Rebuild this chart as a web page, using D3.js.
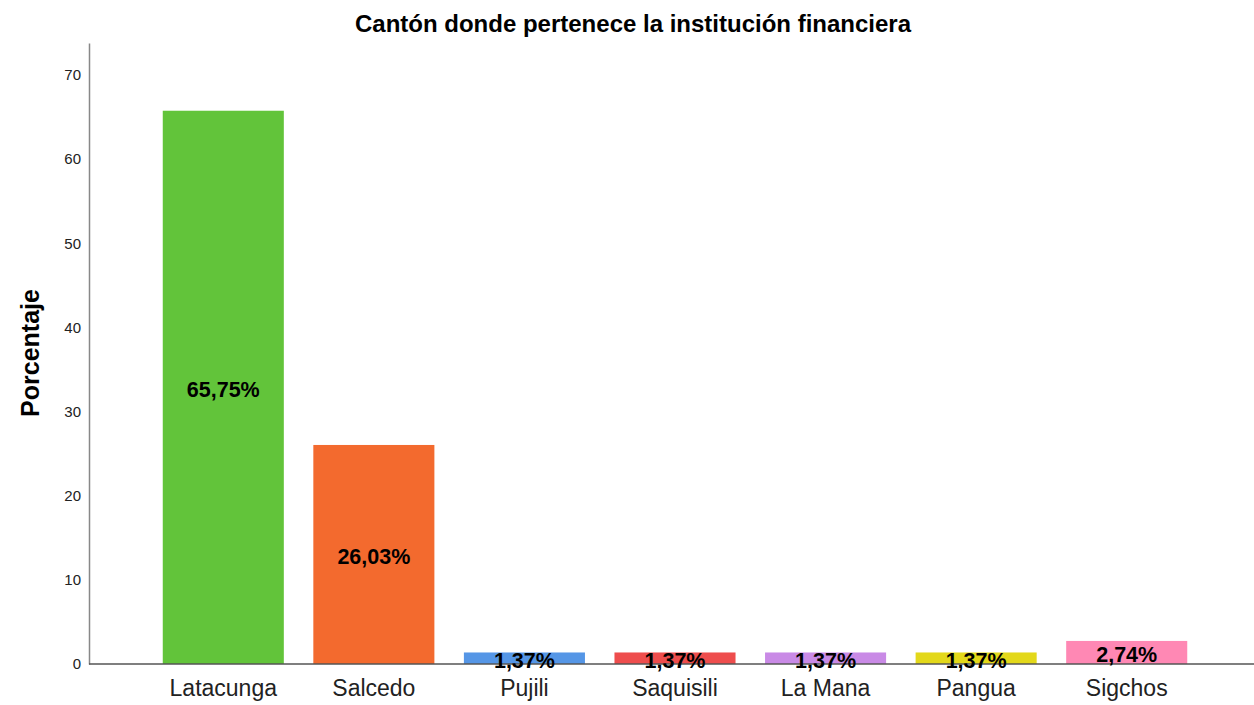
<!DOCTYPE html>
<html>
<head>
<meta charset="utf-8">
<script src="https://cdn.jsdelivr.net/npm/d3@7"></script>
<style>
    body { margin: 0; background: #fff; }
    text { font-family: "Liberation Sans", Arial, sans-serif; }
</style>
</head>
<body>
<script>
// datos del grafico
var cantones = ["Latacunga", "Salcedo", "Pujili", "Saquisili", "La Mana", "Pangua", "Sigchos"];
var porcentajes = [65.75, 26.03, 1.37, 1.37, 1.37, 1.37, 2.74];
var etiquetas = ["65,75%", "26,03%", "1,37%", "1,37%", "1,37%", "1,37%", "2,74%"];
var colores = ["#62c43a", "#f36a2e", "#5596e6", "#ee4d4d", "#c98ae6", "#e3d81a", "#ff88b4"];
var yTicks = [0, 10, 20, 30, 40, 50, 60, 70];

var width = 1254;
var height = 705;

var svg = d3.select("body")
    .append("svg")
    .attr("width", width)
    .attr("height", height);

var x = d3.scaleBand()
    .domain(cantones)
    .range([148, 1202])
    .paddingInner(0.196)
    .paddingOuter(0.098);

var y = d3.scaleLinear()
    .domain([0, 73.8])
    .range([664, 43]);

// barras
svg.selectAll("rect.bar")
    .data(cantones)
    .enter()
    .append("rect")
    .attr("class", "bar")
    .attr("x", function (d) { return x(d); })
    .attr("width", x.bandwidth())
    .attr("y", function (d, i) { return y(porcentajes[i]); })
    .attr("height", function (d, i) { return y(0) - y(porcentajes[i]); })
    .attr("fill", function (d, i) { return colores[i]; });

// eje y
var yAxis = svg.append("g")
    .attr("transform", "translate(89,0)")
    .call(d3.axisLeft(y).tickValues(yTicks).tickSize(0).tickPadding(8));
yAxis.select(".domain").attr("stroke", "#888").attr("stroke-width", 1.5);
yAxis.selectAll("text")
    .style("font-size", "15px")
    .attr("fill", "#222");

// eje x
var xAxis = svg.append("g")
    .attr("transform", "translate(0,664)")
    .call(d3.axisBottom(x).tickSize(0).tickPadding(16));
xAxis.select(".domain")
    .attr("d", "M89,0H1254")
    .attr("stroke", "#555")
    .attr("stroke-width", 1.5);
xAxis.selectAll("text")
    .style("font-size", "23px")
    .attr("fill", "#222");

// etiquetas de valor
svg.selectAll("text.valor")
    .data(cantones)
    .enter()
    .append("text")
    .attr("class", "valor")
    .attr("x", function (d) { return x(d) + x.bandwidth() / 2; })
    .attr("y", function (d, i) { return (y(porcentajes[i]) + y(0)) / 2; })
    .attr("dy", "0.45em")
    .attr("text-anchor", "middle")
    .style("font-size", "21.5px")
    .style("font-weight", "bold")
    .attr("fill", "#000")
    .text(function (d, i) { return etiquetas[i]; });

// titulo
svg.append("text")
    .attr("x", 633)
    .attr("y", 32)
    .attr("text-anchor", "middle")
    .style("font-size", "24px")
    .style("font-weight", "bold")
    .text("Cantón donde pertenece la institución financiera");

svg.append("text")
    .attr("transform", "translate(39,353) rotate(-90)")
    .attr("text-anchor", "middle")
    .style("font-size", "25px")
    .style("font-weight", "bold")
    .text("Porcentaje");
</script>
</body>
</html>
